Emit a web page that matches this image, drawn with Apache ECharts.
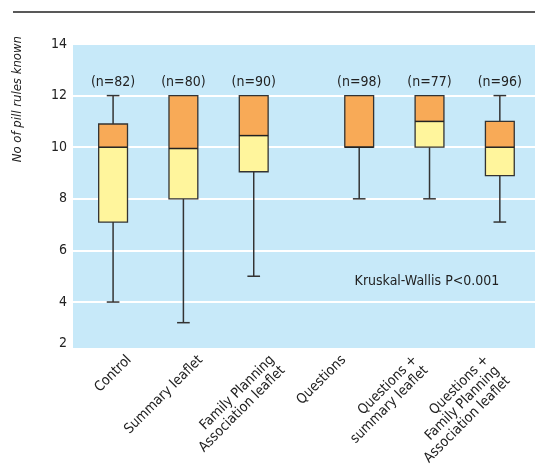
<!DOCTYPE html>
<html>
<head>
<meta charset="utf-8">
<script src="https://cdn.jsdelivr.net/npm/echarts@6/dist/echarts.min.js"></script>
<style>
  html, body { margin: 0; padding: 0; background: #fff; }
  #chart { width: 535px; height: 468px; }
</style>
</head>
<body>
<div id="chart"></div>
<script>
// groups and the numbers
const groups = [
  'Control',
  'Summary leaflet',
  'Family Planning\nAssociation leaflet',
  'Questions',
  'Questions +\nsummary leaflet',
  'Questions +\nFamily Planning\nAssociation leaflet'
];
const sampleSizes = [82, 80, 90, 98, 77, 96];
const whiskerLow = [4, 3.2, 5, 8, 8, 7.1];
const quartile1 = [7.1, 8, 9.05, 10, 10, 8.9];
const medians = [10, 9.95, 10.45, 10, 11, 10];
const quartile3 = [10.9, 12, 12, 12, 12, 11];
const whiskerHigh = [12, 12, 12, 12, 12, 12];
const yMax = 14;
const note = 'Kruskal-Wallis P<0.001';

const FONT = '"Liberation Sans Narrow", "DejaVu Sans Condensed", "Roboto Condensed", "Liberation Sans", sans-serif';
const GROUP_GAP = 0.5;   // extra space between the leaflet-only and the questions groups
const N_LABEL_AT = 12.5; // y value where the (n=..) labels sit
const STROKE = '#333';

const boxData = groups.map((g, i) => [
  i + (i >= 3 ? GROUP_GAP : 0),
  whiskerLow[i], quartile1[i], medians[i], quartile3[i], whiskerHigh[i], sampleSizes[i]
]);

function renderBox(params, api) {
  const x = api.value(0);
  const lo = api.coord([x, api.value(1)]);
  const q1 = api.coord([x, api.value(2)]);
  const md = api.coord([x, api.value(3)]);
  const q3 = api.coord([x, api.value(4)]);
  const hi = api.coord([x, api.value(5)]);
  const cx = lo[0];
  const unit = api.size([1, 0])[0];
  const bw = unit * 0.41, cw = unit * 0.18;
  const line = { stroke: STROKE, lineWidth: 1.5 };
  const kids = [];
  if (lo[1] > q1[1]) {
    kids.push({ type: 'line', shape: { x1: cx, y1: lo[1], x2: cx, y2: q1[1] }, style: line });
    kids.push({ type: 'line', shape: { x1: cx - cw / 2, y1: lo[1], x2: cx + cw / 2, y2: lo[1] }, style: line });
  }
  if (hi[1] < q3[1]) {
    kids.push({ type: 'line', shape: { x1: cx, y1: hi[1], x2: cx, y2: q3[1] }, style: line });
    kids.push({ type: 'line', shape: { x1: cx - cw / 2, y1: hi[1], x2: cx + cw / 2, y2: hi[1] }, style: line });
  }
  kids.push({ type: 'rect', shape: { x: cx - bw / 2, y: md[1], width: bw, height: q1[1] - md[1] },
    style: { fill: '#fff59c' } });
  kids.push({ type: 'rect', shape: { x: cx - bw / 2, y: q3[1], width: bw, height: md[1] - q3[1] },
    style: { fill: '#f8aa57' } });
  kids.push({ type: 'rect', shape: { x: cx - bw / 2, y: q3[1], width: bw, height: q1[1] - q3[1] },
    style: { fill: 'none', stroke: STROKE, lineWidth: 1.3 } });
  kids.push({ type: 'line', shape: { x1: cx - bw / 2, y1: md[1], x2: cx + bw / 2, y2: md[1] },
    style: { stroke: '#222', lineWidth: 1.5 } });
  kids.push({ type: 'text', x: cx, y: api.coord([x, N_LABEL_AT])[1],
    style: { text: '(n=' + api.value(6) + ')', align: 'center', verticalAlign: 'middle',
      font: '14px ' + FONT, fill: '#222' } });
  return { type: 'group', children: kids };
}

const chart = echarts.init(document.getElementById('chart'));
chart.setOption({
  animation: false,
  grid: [
    { left: 73, right: 0, top: 44, bottom: 119, show: true, backgroundColor: '#c7e9f9', borderWidth: 0 },
    { left: 91, right: 15, top: 44, bottom: 119 }
  ],
  xAxis: [
    { type: 'value', gridIndex: 0, min: -0.57, max: 6, show: false },
    {
      type: 'category', gridIndex: 1, data: groups, boundaryGap: true,
      axisLine: { show: false },
      axisTick: { inside: true, alignWithLabel: true, length: 11, lineStyle: { color: '#fff', width: 2 } },
      axisLabel: {
        rotate: 45, interval: 0, margin: 5, verticalAlign: 'top', padding: [0, 4, 0, 0],
        fontFamily: FONT, fontSize: 14, lineHeight: 15, color: '#222'
      }
    }
  ],
  yAxis: [
    {
      type: 'value', gridIndex: 0, min: 2.18, max: yMax,
      axisLine: { show: false }, axisTick: { show: false },
      splitLine: { lineStyle: { color: '#fff', width: 2 } },
      axisLabel: {
        showMinLabel: true, margin: 6, fontFamily: FONT, fontSize: 14, color: '#222',
        formatter: v => (v < 3 ? '{low|' + Math.round(v) + '}' : v),
        rich: { low: { fontFamily: FONT, fontSize: 14, color: '#222', padding: [0, 0, 12, 0] } }
      }
    },
    { type: 'value', gridIndex: 1, show: false }
  ],
  series: [{
    type: 'custom', xAxisIndex: 0, yAxisIndex: 0,
    renderItem: renderBox,
    data: boxData
  }],
  graphic: [
    { type: 'line', shape: { x1: 13, y1: 12, x2: 535, y2: 12 }, style: { stroke: '#222', lineWidth: 1.5 } },
    { type: 'text', x: 18, y: 36, rotation: Math.PI / 2,
      style: { text: 'No of pill rules known', align: 'right', verticalAlign: 'middle',
        font: 'italic 13px ' + FONT, fill: '#222' } },
    { type: 'text', x: 427, y: 281,
      style: { text: note, align: 'center', verticalAlign: 'middle', font: '14px ' + FONT, fill: '#222' } }
  ]
});
</script>
</body>
</html>
